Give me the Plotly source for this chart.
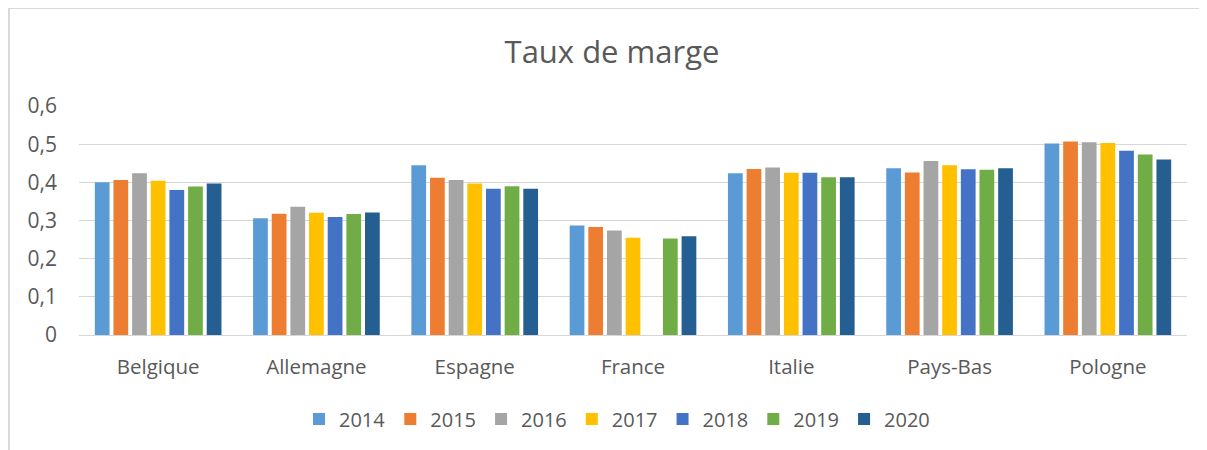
import plotly.graph_objects as go

categories = ["Belgique", "Allemagne", "Espagne", "France", "Italie", "Pays-Bas", "Pologne"]
years = ["2014", "2015", "2016", "2017", "2018", "2019", "2020"]

v2014 = [0.400, 0.306, 0.445, 0.287, 0.424, 0.437, 0.502]
v2015 = [0.406, 0.318, 0.412, 0.283, 0.435, 0.426, 0.507]
v2016 = [0.424, 0.336, 0.406, 0.274, 0.439, 0.456, 0.505]
v2017 = [0.404, 0.320, 0.397, 0.255, 0.425, 0.445, 0.503]
v2018 = [0.380, 0.309, 0.383, None, 0.425, 0.434, 0.483]
v2019 = [0.389, 0.317, 0.390, 0.253, 0.413, 0.433, 0.473]
v2020 = [0.397, 0.321, 0.383, 0.259, 0.413, 0.437, 0.460]

series = [v2014, v2015, v2016, v2017, v2018, v2019, v2020]
colors = ["#5B9BD5", "#ED7D31", "#A5A5A5", "#FFC000", "#4472C4", "#70AD47", "#255E91"]

tick_vals = [0, 0.1, 0.2, 0.3, 0.4, 0.5, 0.6]
tick_text = ["0", "0,1", "0,2", "0,3", "0,4", "0,5", "0,6"]

FONT = "Open Sans"
TXT = "#595959"

fig = go.Figure()
for name, vals, col in zip(years, series, colors):
    fig.add_trace(go.Bar(name=name, x=categories, y=vals, marker_color=col,
                         marker_line_width=0))

# page body has an 8px margin: work in page pixels, shift by OFF
OFF = 8
W, H = 1207 - OFF, 450 - OFF
L, R, T, B = 79 - OFF, 20, 106 - OFF, 115
pw, ph = W - L - R, H - T - B

def px(x):
    return (x - OFF - L) / pw

def py(y):
    return (H - B - (y - OFF)) / ph

fig.update_layout(
    width=W, height=H,
    margin=dict(l=L, r=R, t=T, b=B, pad=0),
    paper_bgcolor="white", plot_bgcolor="white",
    font=dict(family=FONT, color=TXT, size=18),
    barmode="group", bargap=0.175, bargroupgap=0.21,
    title=dict(text="Taux de marge", x=(612 - OFF) / W, y=1 - (52 - OFF) / H,
               xref="container", yref="container",
               xanchor="center", yanchor="middle", font=dict(size=31, color=TXT, family=FONT)),
    legend=dict(orientation="h", x=px(617), xanchor="center", y=py(419), yanchor="middle",
                font=dict(size=20, color=TXT, family=FONT), traceorder="normal"),
    yaxis=dict(range=[0, 0.6], tickvals=tick_vals, ticktext=tick_text, showgrid=True,
               gridcolor="#D6D6D6", gridwidth=1.3, zeroline=False, showline=False,
               tickfont=dict(size=21, color=TXT), ticklabelstandoff=21, fixedrange=True),
    xaxis=dict(showgrid=False, showline=True, linecolor="#D6D6D6", linewidth=1.3,
               tickfont=dict(size=20.5, color=TXT), ticklabelstandoff=13),
    showlegend=True,
)

fig.add_shape(type="line", xref="paper", yref="paper", x0=px(8), x1=px(1207), y0=py(8.5), y1=py(8.5),
              line=dict(color="#D9D9D9", width=1))
fig.add_shape(type="line", xref="paper", yref="paper", x0=px(9), x1=px(9), y0=py(8), y1=py(450),
              line=dict(color="#D9D9D9", width=2))

fig.write_html("out.html")
